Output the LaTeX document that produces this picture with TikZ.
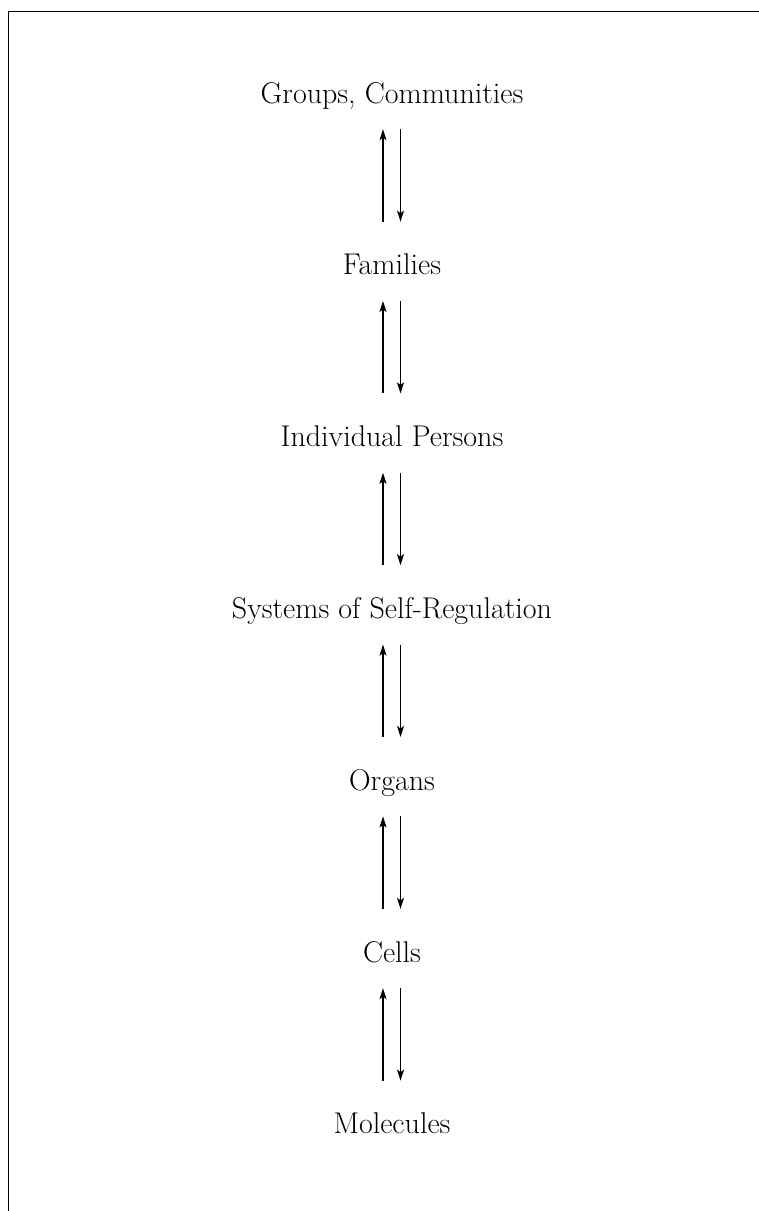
\documentclass[tikz,border=0pt]{standalone}
\usetikzlibrary{arrows.meta}
\begin{document}
\begin{tikzpicture}[x=1pt,y=-1pt,
  lbl/.style={anchor=base, inner sep=0pt, text height=20pt, text depth=6pt, font=\fontsize{30}{34}\selectfont},
  arr/.style={line width=1.2pt, -{Stealth[length=11pt,width=7pt,inset=2.5pt]}},
  frame/.style={line width=1.3pt}]
\useasboundingbox (0,0) rectangle (759,1211);
\draw[frame] (8.3,1211) -- (8.3,11.5) -- (759,11.5);
\node[lbl] (n0) at (392,103) {Groups, Communities};
\node[lbl] (n1) at (392,274.8) {Families};
\node[lbl] (n2) at (392,446.6) {Individual Persons};
\node[lbl] (n3) at (392,618.4) {Systems of Self-Regulation};
\node[lbl] (n4) at (392,790.2) {Organs};
\node[lbl] (n5) at (392,962) {Cells};
\node[lbl] (n6) at (392,1133.8) {Molecules};
\foreach \a/\b in {n0/n1,n1/n2,n2/n3,n3/n4,n4/n5,n5/n6}{
  \draw[arr] ([xshift=-9pt,yshift=33pt]\b.north) -- ([xshift=-9pt,yshift=-20pt]\a.south);
  \draw[arr] ([xshift=8.5pt,yshift=-20pt]\a.south) -- ([xshift=8.5pt,yshift=33pt]\b.north);
}
\end{tikzpicture}
\end{document}
